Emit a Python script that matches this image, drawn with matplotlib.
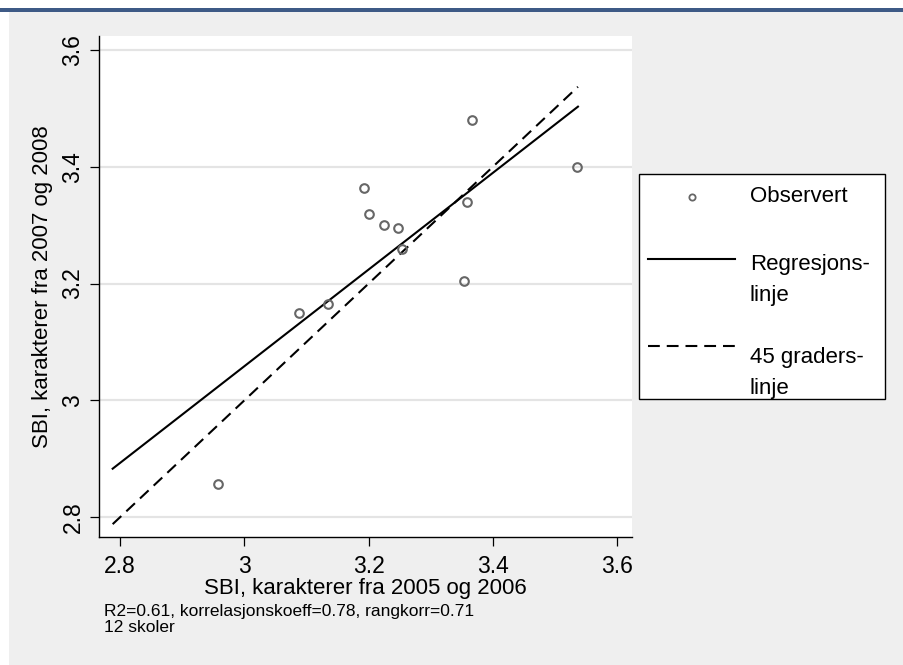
import matplotlib
matplotlib.use("Agg")
import matplotlib.pyplot as plt
from matplotlib.patches import Rectangle
from matplotlib.lines import Line2D

plt.rcParams['font.family'] = ['Liberation Sans', 'DejaVu Sans']
plt.rcParams['lines.scale_dashes'] = False

# Data
x_obs = [2.957, 3.088, 3.135, 3.193, 3.200, 3.224, 3.248, 3.254, 3.359, 3.354, 3.367, 3.536]
y_obs = [2.856, 3.150, 3.165, 3.363, 3.319, 3.300, 3.296, 3.259, 3.339, 3.205, 3.480, 3.400]
line_x = [2.788, 3.537]
reg_y = [2.883, 3.503]
diag_y = [2.788, 3.537]
ticks = [2.8, 3.0, 3.2, 3.4, 3.6]
tick_labels = ["2.8", "3", "3.2", "3.4", "3.6"]
legend_labels = ["Observert", "Regresjons-\nlinje", "45 graders-\nlinje"]
xlabel = "SBI, karakterer fra 2005 og 2006"
ylabel = "SBI, karakterer fra 2007 og 2008"
note = "R2=0.61, korrelasjonskoeff=0.78, rangkorr=0.71\n12 skoler"

W, H = 904, 665
fig = plt.figure(figsize=(W / 100, H / 100), dpi=100)
fig.patch.set_facecolor('white')

def fx(px):
    return px / W

def fy(py):
    return 1 - py / H

# background panel and top rule
fig.patches.append(Rectangle((fx(9), 0), 1 - fx(9), fy(12), transform=fig.transFigure,
                             facecolor='#efefef', edgecolor='none', zorder=-10))
fig.patches.append(Rectangle((0, fy(11.5)), 1, 3.5 / H, transform=fig.transFigure,
                             facecolor='#3e5a86', edgecolor='none', zorder=-9))

ax_top, ax_bot = 36, 537
ax = fig.add_axes([fx(99), fy(ax_bot), fx(632) - fx(99), (ax_bot - ax_top) / H])
ax.set_zorder(1)
ax.set_facecolor('white')
ax.set_xlim(2.766, 3.624)
ax.set_ylim(2.766, 3.624)

for t in ticks:
    ax.axhline(t, color='#e4e4e4', lw=1.6, zorder=0)

ax.plot(line_x, reg_y, color='black', lw=1.5, zorder=2)
ax.plot(line_x, diag_y, color='black', lw=1.5, dashes=(8.5, 5), zorder=2)
ax.plot(x_obs, y_obs, linestyle='none', marker='o', markersize=6.2,
        markerfacecolor='none', markeredgecolor='#666666', markeredgewidth=1.5, zorder=3)

for s in ['top', 'right']:
    ax.spines[s].set_visible(False)
for s in ['left', 'bottom']:
    ax.spines[s].set_linewidth(1.0)
    ax.spines[s].set_color('black')

ax.set_xticks(ticks)
ax.set_xticklabels(tick_labels)
ax.set_yticks(ticks)
ax.set_yticklabels(tick_labels, rotation=90, va='center')
ax.tick_params(axis='both', direction='out', length=6.5, width=0.9, labelsize=16.5)
ax.tick_params(axis='x', pad=6.5)
ax.tick_params(axis='y', pad=4)

ax.set_xlabel(xlabel, fontsize=16)
ax.xaxis.label.set_va('baseline')
ax.xaxis.set_label_coords(0.5, -(594 - ax_bot) / (ax_bot - ax_top))
ax.set_ylabel(ylabel, fontsize=16, labelpad=6)

fig.text(fx(104), fy(604), note, fontsize=12.5, va='top', ha='left', linespacing=1.05)

# legend (drawn manually)
fig.patches.append(Rectangle((fx(639), fy(399)), fx(885) - fx(639), (399 - 174) / H,
                             transform=fig.transFigure, facecolor='white',
                             edgecolor='black', lw=1.0, zorder=2))
fig.lines.append(Line2D([fx(692)], [fy(197)], transform=fig.transFigure, linestyle='none',
                        marker='o', markersize=4.5, markerfacecolor='none',
                        markeredgecolor='#666666', markeredgewidth=1.3, zorder=3))
fig.lines.append(Line2D([fx(648), fx(735)], [fy(259), fy(259)], transform=fig.transFigure,
                        color='black', lw=1.5, zorder=3))
fig.lines.append(Line2D([fx(648), fx(735)], [fy(346), fy(346)], transform=fig.transFigure,
                        color='black', lw=1.5, dashes=(8.5, 5), zorder=3))
legend_y = [197, 280, 373]
for lab, yy in zip(legend_labels, legend_y):
    fig.text(fx(750), fy(yy), lab, fontsize=16, va='center', ha='left',
             linespacing=1.6, zorder=4)

fig.savefig('out.png', dpi=100)
